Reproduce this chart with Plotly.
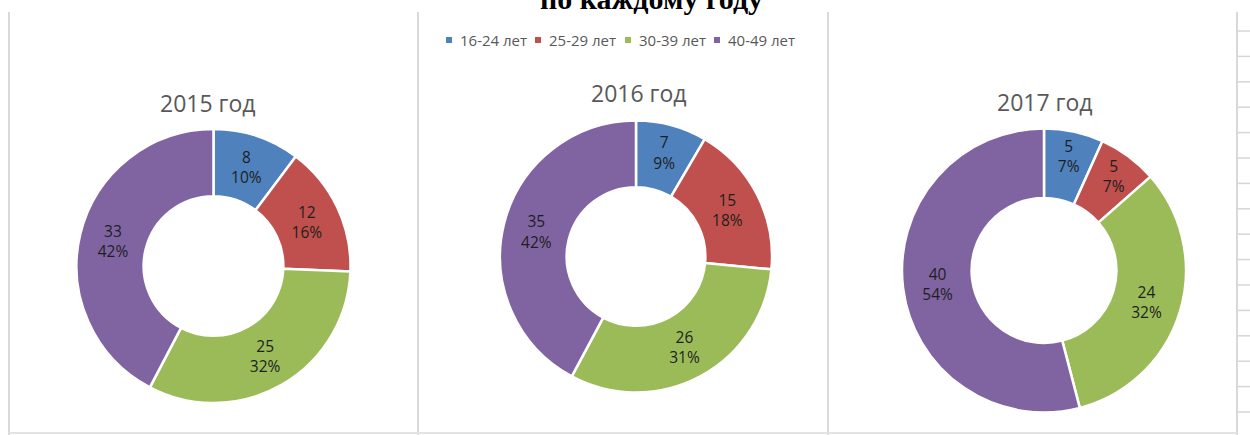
import plotly.graph_objects as go

# Age groups and counts per year
age_groups = ["16-24 лет", "25-29 лет", "30-39 лет", "40-49 лет"]
years = ["2015 год", "2016 год", "2017 год"]
counts_2015 = [8, 12, 25, 33]
counts_2016 = [7, 15, 26, 35]
counts_2017 = [5, 5, 24, 40]
share_2015 = ["10%", "16%", "32%", "42%"]
share_2016 = ["9%", "18%", "31%", "42%"]
share_2017 = ["7%", "7%", "32%", "54%"]

colors = ["#4F81BD", "#C0504D", "#9BBB59", "#8064A2"]

W, H = 1250, 435
FONT = "Open Sans, Noto Sans, DejaVu Sans, sans-serif"


def px_x(x):
    return x / W


def px_y(y):
    return (H - y) / H


# donut geometry in pixels: centre x, centre y (from top), radius
donut_geom = [(213.5, 266, 137), (636, 256.5, 136), (1044, 270.5, 142)]
title_pos = [(208, 103), (639, 93), (1045, 102)]

fig = go.Figure()
for counts, shares, (cx, cy, r) in zip(
    [counts_2015, counts_2016, counts_2017],
    [share_2015, share_2016, share_2017],
    donut_geom,
):
    labels_text = [f"{c}<br>{s}" for c, s in zip(counts, shares)]
    fig.add_trace(
        go.Pie(
            labels=age_groups,
            values=counts,
            text=labels_text,
            texttemplate="%{text}",
            textposition="inside",
            insidetextorientation="horizontal",
            textfont=dict(family=FONT, size=15.5, color="#1E1E1E"),
            hole=0.51,
            sort=False,
            direction="clockwise",
            rotation=0,
            marker=dict(colors=colors, line=dict(color="white", width=2.5)),
            domain=dict(
                x=[px_x(cx - r), px_x(cx + r)],
                y=[px_y(cy + r), px_y(cy - r)],
            ),
            showlegend=False,
            hoverinfo="label+value",
        )
    )

annotations = []
# per-year titles
for name, (tx, ty) in zip(years, title_pos):
    annotations.append(
        dict(
            text=name, x=px_x(tx), y=px_y(ty), xref="paper", yref="paper",
            xanchor="center", yanchor="middle", showarrow=False,
            font=dict(family=FONT, size=23, color="#595959"),
        )
    )

# heading, partly cut off at the top edge
annotations.append(
    dict(
        text="<b>по каждому году</b>", x=px_x(652), y=px_y(17),
        xref="paper", yref="paper", xanchor="center", yanchor="bottom",
        showarrow=False,
        font=dict(family="Liberation Serif, Times New Roman, serif", size=30, color="#000000"),
    )
)

shapes = []
# legend row
legend_x = [449, 538, 628, 717]
for name, col, lx in zip(age_groups, colors, legend_x):
    shapes.append(
        dict(type="rect", xref="paper", yref="paper",
             x0=px_x(lx - 3), x1=px_x(lx + 3), y0=px_y(43), y1=px_y(37),
             fillcolor=col, line=dict(width=0))
    )
    annotations.append(
        dict(text=name, x=px_x(lx + 9), y=px_y(40), xref="paper", yref="paper",
             xanchor="left", yanchor="middle", showarrow=False,
             font=dict(family=FONT, size=15, color="#595959"))
    )

# chart frame separators
border = "#D9D9D9"
for vx in [9, 418, 828, 1237]:
    shapes.append(
        dict(type="line", xref="paper", yref="paper",
             x0=px_x(vx), x1=px_x(vx), y0=px_y(12), y1=px_y(435),
             line=dict(color=border, width=2))
    )
shapes.append(
    dict(type="line", xref="paper", yref="paper",
         x0=px_x(9), x1=px_x(1237), y0=px_y(433), y1=px_y(433),
         line=dict(color="#E3E3E3", width=2))
)
# spreadsheet rows on the right edge
row_y = 31.0
while row_y < 430:
    shapes.append(
        dict(type="line", xref="paper", yref="paper",
             x0=px_x(1237), x1=px_x(1250), y0=px_y(row_y), y1=px_y(row_y),
             line=dict(color="#D6D6D6", width=1.5))
    )
    row_y += 25.4

fig.update_layout(
    width=W, height=H,
    margin=dict(l=0, r=0, t=0, b=0),
    paper_bgcolor="white", plot_bgcolor="white",
    annotations=annotations, shapes=shapes,
    uniformtext=dict(minsize=15, mode="show"),
    showlegend=False,
)

fig.write_html("out.html")
